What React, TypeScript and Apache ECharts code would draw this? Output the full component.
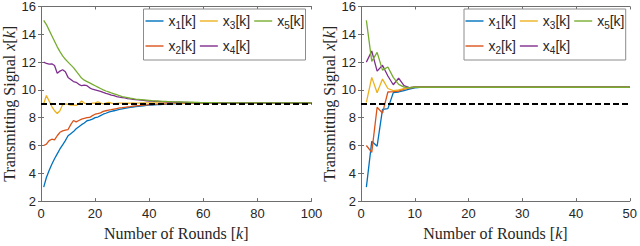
import React, { useEffect, useRef } from "react";
import * as echarts from "echarts";

// ---------- Data ----------
const seriesNames = ["x1", "x2", "x3", "x4", "x5"];
const seriesColors = ["#0072BD", "#D95319", "#EDB120", "#7E2F8E", "#77AC30"];

// Left panel: 100 rounds
const leftX1 = [
  3.0, 3.7, 4.2, 4.65, 5.05, 5.4, 5.75, 6.05, 6.35, 6.7,
  6.85, 7.0, 7.2, 7.35, 7.5, 7.62, 7.78, 7.82, 7.9, 8.0,
  8.05, 8.15, 8.25, 8.32, 8.4, 8.45, 8.5, 8.55, 8.6, 8.64,
  8.67, 8.71, 8.74, 8.77, 8.8, 8.82, 8.84, 8.86, 8.88, 8.9,
  8.91, 8.93, 8.94, 8.95, 8.96, 8.97, 8.98, 8.99, 9.0, 9.01,
  9.02, 9.02, 9.03, 9.03, 9.04, 9.04, 9.04, 9.05, 9.05, 9.05,
  9.05, 9.06, 9.06, 9.06, 9.06, 9.06, 9.06, 9.06, 9.06, 9.07,
  9.07, 9.07, 9.07, 9.07, 9.07, 9.07, 9.07, 9.07, 9.07, 9.07,
  9.07, 9.07, 9.07, 9.07, 9.07, 9.07, 9.07, 9.07, 9.07, 9.07,
  9.07, 9.07, 9.07, 9.07, 9.07, 9.07, 9.07, 9.07, 9.07, 9.07,
];
const leftX2 = [
  6.0, 6.1, 6.35, 6.45, 6.4, 6.7, 6.95, 7.05, 7.1, 7.15,
  7.5, 7.8, 7.7, 7.8, 7.9, 7.95, 8.0, 8.02, 8.15, 8.25,
  8.3, 8.35, 8.45, 8.5, 8.55, 8.58, 8.62, 8.66, 8.7, 8.72,
  8.75, 8.78, 8.8, 8.83, 8.85, 8.87, 8.89, 8.91, 8.92, 8.94,
  8.95, 8.96, 8.97, 8.98, 8.99, 9.0, 9.01, 9.02, 9.03, 9.03,
  9.04, 9.04, 9.05, 9.05, 9.05, 9.05, 9.06, 9.06, 9.06, 9.06,
  9.06, 9.06, 9.06, 9.07, 9.07, 9.07, 9.07, 9.07, 9.07, 9.07,
  9.07, 9.07, 9.07, 9.07, 9.07, 9.07, 9.07, 9.07, 9.07, 9.07,
  9.07, 9.07, 9.07, 9.07, 9.07, 9.07, 9.07, 9.07, 9.07, 9.07,
  9.07, 9.07, 9.07, 9.07, 9.07, 9.07, 9.07, 9.07, 9.07, 9.07,
];
const leftX3 = [
  9.0, 9.6, 9.2, 8.8, 8.5, 8.3, 8.5, 8.95, 9.0, 8.95,
  8.9, 8.9, 8.88, 9.0, 9.2, 9.05, 8.98, 9.0, 9.05, 9.05,
  9.15, 9.05, 9.0, 9.05, 9.1, 9.05, 9.0, 9.03, 9.05, 9.05,
  9.05, 9.04, 9.05, 9.06, 9.05, 9.05, 9.06, 9.06, 9.06, 9.06,
  9.06, 9.06, 9.06, 9.06, 9.06, 9.06, 9.07, 9.07, 9.07, 9.07,
  9.07, 9.07, 9.07, 9.07, 9.07, 9.07, 9.07, 9.07, 9.07, 9.07,
  9.07, 9.07, 9.07, 9.07, 9.07, 9.07, 9.07, 9.07, 9.07, 9.07,
  9.07, 9.07, 9.07, 9.07, 9.07, 9.07, 9.07, 9.07, 9.07, 9.07,
  9.07, 9.07, 9.07, 9.07, 9.07, 9.07, 9.07, 9.07, 9.07, 9.07,
  9.07, 9.07, 9.07, 9.07, 9.07, 9.07, 9.07, 9.07, 9.07, 9.07,
];
const leftX4 = [
  12.0, 11.9, 11.85, 11.88, 11.75, 11.2, 11.35, 11.45, 11.3, 10.9,
  10.75, 10.6, 10.55, 10.4, 10.3, 10.35, 10.3, 10.15, 10.05, 10.0,
  9.95, 9.9, 9.82, 9.75, 9.7, 9.62, 9.58, 9.52, 9.48, 9.45,
  9.42, 9.38, 9.35, 9.32, 9.3, 9.28, 9.26, 9.24, 9.22, 9.2,
  9.19, 9.18, 9.17, 9.16, 9.15, 9.14, 9.13, 9.12, 9.12, 9.11,
  9.11, 9.1, 9.1, 9.1, 9.09, 9.09, 9.08, 9.08, 9.08, 9.08,
  9.08, 9.08, 9.07, 9.07, 9.07, 9.07, 9.07, 9.07, 9.07, 9.07,
  9.07, 9.07, 9.07, 9.07, 9.07, 9.07, 9.07, 9.07, 9.07, 9.07,
  9.07, 9.07, 9.07, 9.07, 9.07, 9.07, 9.07, 9.07, 9.07, 9.07,
  9.07, 9.07, 9.07, 9.07, 9.07, 9.07, 9.07, 9.07, 9.07, 9.07,
];
const leftX5 = [
  15.0, 14.7, 14.3, 13.9, 13.5, 13.1, 12.75, 12.45, 12.2, 12.0,
  11.8, 11.6, 11.35, 11.1, 10.85, 10.7, 10.6, 10.5, 10.4, 10.3,
  10.2, 10.1, 10.0, 9.92, 9.85, 9.78, 9.72, 9.66, 9.58, 9.52,
  9.48, 9.44, 9.4, 9.37, 9.34, 9.32, 9.3, 9.28, 9.26, 9.24,
  9.22, 9.21, 9.2, 9.19, 9.18, 9.17, 9.16, 9.15, 9.14, 9.14,
  9.13, 9.13, 9.12, 9.12, 9.11, 9.11, 9.1, 9.1, 9.09, 9.09,
  9.09, 9.08, 9.08, 9.08, 9.08, 9.07, 9.07, 9.07, 9.07, 9.07,
  9.07, 9.07, 9.07, 9.07, 9.07, 9.07, 9.07, 9.07, 9.07, 9.07,
  9.07, 9.07, 9.07, 9.07, 9.07, 9.07, 9.07, 9.07, 9.07, 9.07,
  9.07, 9.07, 9.07, 9.07, 9.07, 9.07, 9.07, 9.07, 9.07, 9.07,
];

// Right panel: 50 rounds
const rightX1 = [
  3.0, 6.3, 5.95, 8.6, 8.65, 9.8, 9.85, 9.95, 10.05, 10.15,
  10.19, 10.19, 10.19, 10.19, 10.19, 10.19, 10.19, 10.19, 10.19, 10.19,
  10.19, 10.19, 10.19, 10.19, 10.19, 10.19, 10.19, 10.19, 10.19, 10.19,
  10.19, 10.19, 10.19, 10.19, 10.19, 10.19, 10.19, 10.19, 10.19, 10.19,
  10.19, 10.19, 10.19, 10.19, 10.19, 10.19, 10.19, 10.19, 10.19, 10.19,
];
const rightX2 = [
  6.0, 5.5, 8.75, 8.33, 9.85, 9.88, 9.92, 10.05, 10.15, 10.19,
  10.19, 10.19, 10.19, 10.19, 10.19, 10.19, 10.19, 10.19, 10.19, 10.19,
  10.19, 10.19, 10.19, 10.19, 10.19, 10.19, 10.19, 10.19, 10.19, 10.19,
  10.19, 10.19, 10.19, 10.19, 10.19, 10.19, 10.19, 10.19, 10.19, 10.19,
  10.19, 10.19, 10.19, 10.19, 10.19, 10.19, 10.19, 10.19, 10.19, 10.19,
];
const rightX3 = [
  9.1, 10.9, 9.8, 10.78, 10.1, 9.95, 10.0, 10.1, 10.16, 10.19,
  10.19, 10.19, 10.19, 10.19, 10.19, 10.19, 10.19, 10.19, 10.19, 10.19,
  10.19, 10.19, 10.19, 10.19, 10.19, 10.19, 10.19, 10.19, 10.19, 10.19,
  10.19, 10.19, 10.19, 10.19, 10.19, 10.19, 10.19, 10.19, 10.19, 10.19,
  10.19, 10.19, 10.19, 10.19, 10.19, 10.19, 10.19, 10.19, 10.19, 10.19,
];
const rightX4 = [
  12.0, 12.8, 11.35, 11.77, 11.0, 10.37, 10.84, 10.3, 10.17, 10.19,
  10.19, 10.19, 10.19, 10.19, 10.19, 10.19, 10.19, 10.19, 10.19, 10.19,
  10.19, 10.19, 10.19, 10.19, 10.19, 10.19, 10.19, 10.19, 10.19, 10.19,
  10.19, 10.19, 10.19, 10.19, 10.19, 10.19, 10.19, 10.19, 10.19, 10.19,
  10.19, 10.19, 10.19, 10.19, 10.19, 10.19, 10.19, 10.19, 10.19, 10.19,
];
const rightX5 = [
  15.0, 12.05, 12.7, 11.42, 11.65, 10.9, 10.4, 10.2, 10.17, 10.19,
  10.19, 10.19, 10.19, 10.19, 10.19, 10.19, 10.19, 10.19, 10.19, 10.19,
  10.19, 10.19, 10.19, 10.19, 10.19, 10.19, 10.19, 10.19, 10.19, 10.19,
  10.19, 10.19, 10.19, 10.19, 10.19, 10.19, 10.19, 10.19, 10.19, 10.19,
  10.19, 10.19, 10.19, 10.19, 10.19, 10.19, 10.19, 10.19, 10.19, 10.19,
];

const referenceLevel = 9;
const leftXMax = 100;
const leftXInterval = 20;
const rightXMax = 50;
const rightXInterval = 10;
const yMin = 2;
const yMax = 16;
const yInterval = 2;

const leftData = [leftX1, leftX2, leftX3, leftX4, leftX5];
const rightData = [rightX1, rightX2, rightX3, rightX4, rightX5];

// ---------- Styling ----------
const SERIF = "Liberation Serif";
const SANS = "Liberation Sans";
const AXIS_COLOR = "#6e6e6e";
const TEXT_COLOR = "#262626";

function toPairs(vals: number[]) {
  return vals.map((v, i) => [i + 1, v]);
}

export default function App() {
  const ref = useRef<HTMLDivElement>(null);

  useEffect(() => {
    if (!ref.current) return;
    const chart = echarts.init(ref.current, null, { renderer: "svg" });

    const grids = [
      { left: 41, top: 6, width: 270.5, height: 200.7 },
      { left: 361, top: 6, width: 271, height: 200.7 },
    ];

    const xMaxes = [leftXMax, rightXMax];
    const xIntervals = [leftXInterval, rightXInterval];

    const xAxes: any[] = [];
    const yAxes: any[] = [];
    grids.forEach((_, g) => {
      xAxes.push({
        type: "value",
        gridIndex: g,
        position: "bottom",
        min: 0,
        max: xMaxes[g],
        interval: xIntervals[g],
        axisLine: { show: true, lineStyle: { color: AXIS_COLOR, width: 1 } },
        axisTick: { show: true, inside: true, length: 3, lineStyle: { color: AXIS_COLOR } },
        axisLabel: { color: TEXT_COLOR, fontFamily: SANS, fontSize: 13, margin: 6 },
        splitLine: { show: false },
        name: "Number of Rounds [{i|k}]",
        nameLocation: "middle",
        nameGap: 21,
        nameTextStyle: {
          fontFamily: SERIF,
          fontSize: 16,
          color: TEXT_COLOR,
          rich: { i: { fontFamily: SERIF, fontSize: 16, fontStyle: "italic", color: TEXT_COLOR } },
        },
      });
      xAxes.push({
        type: "value",
        gridIndex: g,
        position: "top",
        min: 0,
        max: xMaxes[g],
        interval: xIntervals[g],
        axisLine: { show: true, lineStyle: { color: AXIS_COLOR, width: 1 } },
        axisTick: { show: true, inside: true, length: 3, lineStyle: { color: AXIS_COLOR } },
        axisLabel: { show: false },
        splitLine: { show: false },
      });
      yAxes.push({
        type: "value",
        gridIndex: g,
        position: "left",
        min: yMin,
        max: yMax,
        interval: yInterval,
        axisLine: { show: true, lineStyle: { color: AXIS_COLOR, width: 1 } },
        axisTick: { show: true, inside: true, length: 3, lineStyle: { color: AXIS_COLOR } },
        axisLabel: { color: TEXT_COLOR, fontFamily: SANS, fontSize: 13, margin: 5 },
        splitLine: { show: false },
        name: "Transmitting Signal {i|x}[{i|k}]",
        nameLocation: "middle",
        nameGap: 22,
        nameTextStyle: {
          fontFamily: SERIF,
          fontSize: 16,
          color: TEXT_COLOR,
          rich: { i: { fontFamily: SERIF, fontSize: 16, fontStyle: "italic", color: TEXT_COLOR } },
        },
      });
      yAxes.push({
        type: "value",
        gridIndex: g,
        position: "right",
        min: yMin,
        max: yMax,
        interval: yInterval,
        axisLine: { show: true, lineStyle: { color: AXIS_COLOR, width: 1 } },
        axisTick: { show: true, inside: true, length: 3, lineStyle: { color: AXIS_COLOR } },
        axisLabel: { show: false },
        splitLine: { show: false },
      });
    });

    const series: any[] = [];
    [leftData, rightData].forEach((panel, g) => {
      panel.forEach((vals, s) => {
        const item: any = {
          type: "line",
          name: seriesNames[s],
          xAxisIndex: g * 2,
          yAxisIndex: g * 2,
          data: toPairs(vals),
          symbol: "none",
          showSymbol: false,
          lineStyle: { color: seriesColors[s], width: 1.3 },
          itemStyle: { color: seriesColors[s] },
          emphasis: { disabled: true },
        };
        if (s === panel.length - 1) {
          item.markLine = {
            silent: true,
            symbol: ["none", "none"],
            label: { show: false },
            lineStyle: { color: "#000", type: [6, 3], width: 2 },
            data: [{ yAxis: referenceLevel }],
          };
        }
        series.push(item);
      });
    });

    const legendText = {
      fontFamily: SANS,
      fontSize: 14,
      color: TEXT_COLOR,
      rich: {
        s: { fontFamily: SANS, fontSize: 10, color: TEXT_COLOR, padding: [9, 0, 0, 0] },
      },
    };
    const legendFormatter = (name: string) => `x{s|${name.slice(1)}}[k]`;
    const legendBase = {
      orient: "horizontal",
      icon: "rect",
      itemWidth: 18,
      itemHeight: 1.4,
      itemGap: 4,
      padding: 0,
      selectedMode: false,
      formatter: legendFormatter,
      textStyle: legendText,
      z: 5,
    };
    const legendLefts = [145.5, 465.5];
    const legends: any[] = [];
    legendLefts.forEach((lx) => {
      legends.push({ ...legendBase, left: lx, top: 14, data: ["x1", "x3", "x5"] });
      legends.push({ ...legendBase, left: lx, top: 39, data: ["x2", "x4"] });
    });

    const boxes = [
      { x: 143.5, w: 162 },
      { x: 464, w: 161.7 },
    ];

    chart.setOption({
      animation: false,
      backgroundColor: "#ffffff",
      grid: grids,
      xAxis: xAxes,
      yAxis: yAxes,
      legend: legends,
      series,
      graphic: boxes.map((b) => ({
        type: "rect",
        z: 4,
        silent: true,
        shape: { x: b.x, y: 9, width: b.w, height: 51 },
        style: { fill: "#ffffff", stroke: "#8c8c8c", lineWidth: 1 },
      })),
    });

    return () => chart.dispose();
  }, []);

  return (
    <div
      ref={ref}
      style={{ position: "fixed", left: 0, top: 0, width: 640, height: 246 }}
    />
  );
}
